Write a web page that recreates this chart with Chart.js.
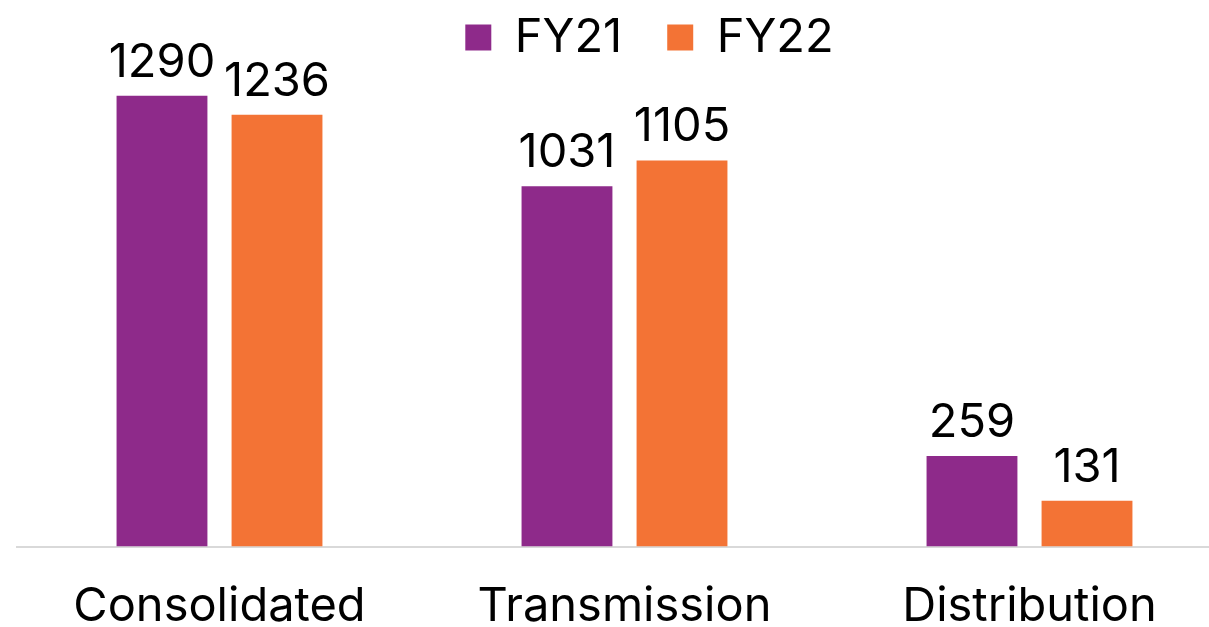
<!DOCTYPE html>
<html>
<head>
<meta charset="utf-8">
<script src="https://cdn.jsdelivr.net/npm/chart.js@4"></script>
<style>
  html, body { margin: 0; padding: 0; background: #fff; overflow: hidden; }
  #wrap { width: 1232px; height: 667px; }
</style>
</head>
<body>
<div id="wrap"><canvas id="chart"></canvas></div>
<script>
const categories = ['Consolidated', 'Transmission', 'Distribution'];
const fy21 = [1290, 1031, 259];
const fy22 = [1236, 1105, 131];

const FONT = "Inter, 'Open Sans', sans-serif";

// value labels above each bar
const valueLabels = {
    id: 'valueLabels',
    afterDatasetsDraw(chart) {
        const ctx = chart.ctx;
        ctx.save();
        ctx.font = '47px ' + FONT;
        ctx.fillStyle = '#000';
        ctx.textAlign = 'center';
        ctx.textBaseline = 'alphabetic';
        chart.data.datasets.forEach((ds, i) => {
            chart.getDatasetMeta(i).data.forEach((bar, j) => {
                ctx.fillText(String(ds.data[j]), bar.x, bar.y - 19);
            });
        });
        ctx.restore();
    }
};

// nudge legend a bit right, like the original
const legendShift = {
    id: 'legendShift',
    afterLayout(chart) {
        chart.legend.left += 25;
        chart.legend.right += 25;
    }
};

document.addEventListener("DOMContentLoaded", function () {
    const ctx = document.getElementById('chart').getContext('2d');
    new Chart(ctx, {
        type: 'bar',
        data: {
            labels: categories,
            datasets: [{
                label: 'FY21',
                data: fy21,
                backgroundColor: '#8E2A8A',
                categoryPercentage: 0.568,
                barPercentage: 0.79
            }, {
                label: 'FY22',
                data: fy22,
                backgroundColor: '#F37335',
                categoryPercentage: 0.568,
                barPercentage: 0.79
            }]
        },
        options: {
            responsive: true,
            maintainAspectRatio: false,
            animation: false,
            layout: { padding: { left: 17, right: 0, top: -31, bottom: 0 } },
            plugins: {
                tooltip: { enabled: false },
                legend: {
                    position: 'top',
                    align: 'center',
                    labels: {
                        boxWidth: 26,
                        boxHeight: 26,
                        padding: 45,
                        color: '#000',
                        font: { family: FONT, size: 47 }
                    }
                }
            },
            scales: {
                x: {
                    grid: { display: false, drawTicks: false },
                    border: { display: true, color: '#d9d9d9', width: 2 },
                    ticks: {
                        color: '#000',
                        padding: 32,
                        font: { family: FONT, size: 47 }
                    }
                },
                y: {
                    display: false,
                    min: 0,
                    max: 1361
                }
            }
        },
        plugins: [valueLabels, legendShift]
    });
});
</script>
</body>
</html>
